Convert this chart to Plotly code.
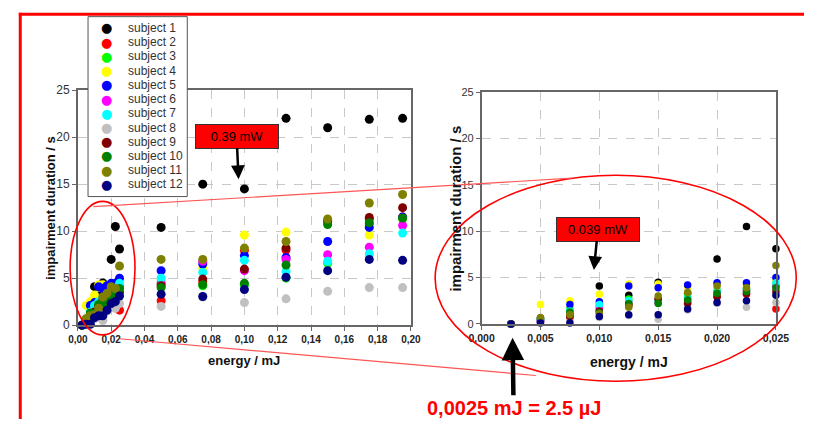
import plotly.graph_objects as go

W, H = 817, 426

subjects = [f"subject {i}" for i in range(1, 13)]
colors = ["#000000", "#FF0000", "#00FF00", "#FFFF00", "#0000FF", "#FF00FF",
          "#00FFFF", "#C0C0C0", "#800000", "#008000", "#808000", "#000080"]

energy = [0.0025, 0.005, 0.0075, 0.01, 0.0125, 0.015, 0.0175, 0.02, 0.0225, 0.025,
          0.05, 0.075, 0.10, 0.125, 0.15, 0.175, 0.195]

s1 = [0, 0.3, 0.9, 4.1, 3.1, 4.5, 3.3, 7.0, 10.5, 8.1, 10.4, 15.0, 14.5, 22.0, 21.0, 21.9, 22.0]
s2 = [0, 0.2, 0.7, 1.5, 2.0, 2.6, 2.3, 3.0, 3.2, 1.6, 2.6, 4.6, 7.95, 8.0, 11.0, 11.3, 11.5]
s3 = [0, 0.5, 1.6, 2.0, 2.7, 2.4, 3.0, 3.6, 3.7, 4.2, 4.4, 4.2, 4.3, 5.0, 6.6, 10.8, 11.3]
s4 = [0, 2.1, 2.5, 3.2, 4.3, 4.3, 4.0, 4.3, 4.2, 4.6, 4.8, 6.1, 9.6, 9.9, 11.2, 9.6, 11.4]
s5 = [0, 0.4, 2.1, 2.4, 4.1, 3.9, 4.2, 4.45, 4.45, 5.0, 5.8, 6.5, 7.4, 7.2, 8.9, 10.4, 11.5]
s6 = [0, 0.3, 1.2, 1.8, 2.4, 2.3, 2.6, 3.4, 3.6, 4.0, 4.5, 6.8, 5.8, 7.0, 7.5, 8.3, 10.6]
s7 = [0, 0.5, 1.4, 2.1, 2.5, 2.5, 2.8, 3.5, 3.8, 4.45, 5.0, 5.6, 6.9, 5.7, 6.8, 7.6, 9.8]
s8 = [0, 0.2, 0.4, 0.7, 0.9, 0.5, 1.5, 2.2, 1.8, 2.3, 2.0, 3.0, 2.4, 2.8, 3.6, 4.0, 4.0]
s9 = [0, 0.6, 0.8, 1.4, 2.1, 2.7, 2.2, 2.9, 3.3, 3.5, 4.2, 4.9, 5.97, 8.2, 11.1, 11.45, 12.5]
s10 = [0, 0.6, 1.3, 1.2, 2.2, 2.2, 2.6, 3.3, 3.5, 3.9, 4.0, 4.3, 4.45, 6.4, 10.7, 10.9, 11.4]
s11 = [0, 0.7, 1.0, 1.1, 1.8, 3.0, 3.4, 4.1, 3.9, 6.3, 7.0, 7.0, 8.2, 8.9, 11.3, 13.0, 13.9]
s12 = [0, 0.1, 0.1, 0.8, 1.0, 1.0, 1.6, 2.3, 2.5, 3.1, 3.3, 3.05, 3.8, 5.1, 5.8, 7.0, 6.9]
durations = [s1, s2, s3, s4, s5, s6, s7, s8, s9, s10, s11, s12]

left_xticks = [0, 0.02, 0.04, 0.06, 0.08, 0.10, 0.12, 0.14, 0.16, 0.18, 0.20]
left_xtext = ["0,00", "0,02", "0,04", "0,06", "0,08", "0,10", "0,12", "0,14", "0,16", "0,18", "0,20"]
right_xticks = [0, 0.005, 0.010, 0.015, 0.020, 0.025]
right_xtext = ["0,000", "0,005", "0,010", "0,015", "0,020", "0,025"]
yticks = [0, 5, 10, 15, 20, 25]


def px(x):
    return x / W


def py(y):
    return 1 - y / H


fig = go.Figure()
for name, col, ys in zip(subjects, colors, durations):
    fig.add_trace(go.Scatter(x=energy, y=ys, mode="markers", name=name,
                             marker=dict(color=col, size=9), cliponaxis=False,
                             showlegend=False, xaxis="x", yaxis="y"))
for name, col, ys in zip(subjects, colors, durations):
    xs = [e for e in energy if e <= 0.025]
    yy = [v for e, v in zip(energy, ys) if e <= 0.025]
    fig.add_trace(go.Scatter(x=xs, y=yy, mode="markers", name=name,
                             marker=dict(color=col, size=7.5), cliponaxis=False,
                             showlegend=False, xaxis="x2", yaxis="y2"))

axis_common = dict(showgrid=True, gridcolor="#c8c8c8", griddash="dash", gridwidth=1,
                   showline=True, linecolor="#666666", linewidth=1.5, mirror=True,
                   ticks="outside", ticklen=4, tickcolor="#666666", zeroline=False)

fig.update_layout(
    width=W, height=H, margin=dict(l=0, r=0, t=0, b=0),
    paper_bgcolor="white", plot_bgcolor="white", showlegend=False,
    font=dict(family="Liberation Sans, Arial, sans-serif", color="#222"),
    xaxis=dict(domain=[px(67), px(411)], range=[0, 0.2], tickvals=left_xticks,
               ticktext=left_xtext, anchor="y",
               tickfont=dict(size=10, weight="bold", color="#222"), **axis_common),
    yaxis=dict(domain=[py(329), py(86)], range=[0, 25], tickvals=yticks, anchor="x",
               tickfont=dict(size=12, color="#333"), **axis_common),
    xaxis2=dict(domain=[px(484), px(788)], range=[0, 0.025], tickvals=right_xticks,
                ticktext=right_xtext, anchor="y2",
                tickfont=dict(size=10.5, weight="bold", color="#222"), **axis_common),
    yaxis2=dict(domain=[py(327.7), py(88)], range=[0, 25], tickvals=yticks, anchor="x2",
                tickfont=dict(size=11, color="#333"), **axis_common),
)

C = dict(xref="paper", yref="paper", xanchor="center", yanchor="middle")

annotations = []
annotations.append(dict(text="energy / mJ", x=px(239), y=py(365), showarrow=False,
                        font=dict(size=13, weight="bold", color="#111"), **C))
annotations.append(dict(text="energy / mJ", x=px(636), y=py(367), showarrow=False,
                        font=dict(size=14, weight="bold", color="#111"), **C))
annotations.append(dict(text="impairment duration / s", x=px(38), y=py(208),
                        showarrow=False, textangle=-90,
                        font=dict(size=13, weight="bold", color="#111"), **C))
annotations.append(dict(text="impairment duration / s", x=px(457), y=py(208),
                        showarrow=False, textangle=-90,
                        font=dict(size=15, weight="bold", color="#111"), **C))

annotations.append(dict(text="0.39 mW", x=px(233), y=py(178), xref="paper", yref="paper",
                        ax=-2, ay=-43, showarrow=True, arrowhead=2, arrowsize=1.1,
                        arrowwidth=2.5, arrowcolor="black", bgcolor="#FF0000",
                        bordercolor="#333", borderwidth=1, borderpad=4, width=74, height=15,
                        font=dict(size=13, color="black")))
annotations.append(dict(text="0.039 mW", x=px(600), y=py(272), xref="paper", yref="paper",
                        ax=4, ay=-41, showarrow=True, arrowhead=2, arrowsize=1.1,
                        arrowwidth=2.5, arrowcolor="black", bgcolor="#FF0000",
                        bordercolor="#333", borderwidth=1, borderpad=4, width=74, height=15,
                        font=dict(size=13, color="black")))
annotations.append(dict(text="0,0025 mJ = 2.5 µJ", x=px(516), y=py(342), xref="paper",
                        yref="paper", ax=1, ay=70, showarrow=True, arrowhead=2, arrowsize=1,
                        arrowwidth=4.5, arrowcolor="black",
                        font=dict(size=20, weight="bold", color="#FF0000")))

leg_x0, leg_x1, leg_y0, leg_y1 = 77.5, 180, 10, 196
for i, (name, col) in enumerate(zip(subjects, colors)):
    yy = 21.7 + i * 14.7
    annotations.append(dict(text="●", x=px(96.5), y=py(yy), showarrow=False,
                            font=dict(size=13, color=col, family="DejaVu Sans"), **C))
    annotations.append(dict(text=name, x=px(117), y=py(yy), xref="paper", yref="paper",
                            xanchor="left", yanchor="middle", showarrow=False,
                            font=dict(size=12, color="#333")))

shapes = []
shapes.append(dict(type="rect", xref="paper", yref="paper", x0=px(leg_x0), x1=px(leg_x1),
                   y0=py(leg_y1), y1=py(leg_y0), fillcolor="white",
                   line=dict(color="#555", width=1), layer="above"))
shapes.append(dict(type="circle", xref="paper", yref="paper", x0=px(59), x1=px(126),
                   y0=py(339), y1=py(201), line=dict(color="#FF0000", width=1.6), layer="above"))
shapes.append(dict(type="circle", xref="paper", yref="paper", x0=px(436), x1=px(809),
                   y0=py(387), y1=py(174), line=dict(color="#FF0000", width=1.6), layer="above"))
shapes.append(dict(type="line", xref="paper", yref="paper", x0=px(83), y0=py(206.5),
                   x1=px(577), y1=py(177), line=dict(color="#FF5555", width=1.2), layer="above"))
shapes.append(dict(type="line", xref="paper", yref="paper", x0=px(110), y0=py(343),
                   x1=px(540), y1=py(381), line=dict(color="#FF5555", width=1.2), layer="above"))
shapes.append(dict(type="line", xref="paper", yref="paper", x0=px(6), y0=py(7.5),
                   x1=1, y1=py(7.5), line=dict(color="#FF0000", width=3), layer="above"))
shapes.append(dict(type="line", xref="paper", yref="paper", x0=px(7.5), y0=py(6),
                   x1=px(7.5), y1=0, line=dict(color="#FF0000", width=3), layer="above"))

fig.update_layout(annotations=annotations, shapes=shapes)
fig.write_html("out.html")
